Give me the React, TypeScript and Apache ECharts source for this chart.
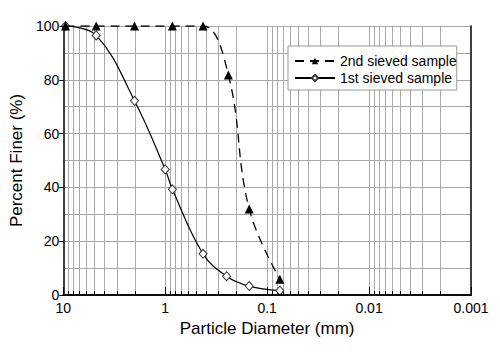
import React, { useEffect, useRef } from 'react';
import * as echarts from 'echarts';

// Particle size (mm) and percent finer
const sizes1st = [9.5, 4.75, 2.0, 1.0, 0.85, 0.425, 0.25, 0.15, 0.075];
const finer1st = [100, 96.5, 72.2, 46.7, 39.3, 15.3, 7.0, 3.3, 1.6];
const sizes2nd = [9.5, 4.75, 2.0, 0.85, 0.425, 0.24, 0.15, 0.075];
const finer2nd = [100, 100, 100, 100, 100, 81.8, 32.0, 5.9];

const xTickLabels = ['10', '1', '0.1', '0.01', '0.001'];
const decades = [1, 0.1, 0.01, 0.001];
const multipliers = [1, 2, 3, 4, 5, 6, 7, 8, 9];

const FONT = '"Liberation Sans", Arial, sans-serif';

export default function App() {
  const ref = useRef<HTMLDivElement>(null);
  useEffect(() => {
    if (!ref.current) return;
    const chart = echarts.init(ref.current, undefined, { renderer: 'svg' });
    const gridVals: number[][] = [];
    decades.forEach((d) => {
      multipliers.forEach((m) => {
        const v = +(d * m).toPrecision(3);
        if (v > 0.001 && v < 10) gridVals.push([v, 0, m === 1 ? 1 : 0]);
      });
    });
    const option: any = {
      animation: false,
      textStyle: { fontFamily: FONT },
      grid: { left: 62, right: 29, top: 26, bottom: 59 },
      legend: {
        orient: 'vertical',
        left: 288,
        top: 46,
        padding: [8, 0, 5, 6],
        itemGap: 3,
        itemWidth: 40,
        itemHeight: 8,
        backgroundColor: '#fff',
        borderColor: '#999',
        borderWidth: 1,
        borderRadius: 0,
        textStyle: { fontSize: 14, color: '#000', fontFamily: FONT, lineHeight: 14 },
        data: ['2nd sieved sample', '1st sieved sample'],
      },
      xAxis: [
        {
          type: 'log',
          logBase: 10,
          inverse: true,
          min: 0.001,
          max: 10,
          splitNumber: 4,
          position: 'bottom',
          z: 5,
          axisLine: { show: true, lineStyle: { color: '#000', width: 1.5 } },
          axisTick: { show: true, inside: true, length: 8, lineStyle: { color: '#000', width: 1 } },
          axisLabel: {
            fontSize: 14,
            color: '#000',
            margin: 6,
            fontFamily: FONT,
            formatter: (v: number) => xTickLabels[1 - Math.round(Math.log10(v))],
          },
          splitLine: { show: false },
          name: 'Particle Diameter (mm)',
          nameLocation: 'middle',
          nameGap: 24,
          nameTextStyle: { fontSize: 17, color: '#000', fontFamily: FONT },
        },
        {
          type: 'log',
          logBase: 10,
          inverse: true,
          min: 0.001,
          max: 10,
          position: 'top',
          z: 5,
          axisLine: { show: true, lineStyle: { color: '#000', width: 1.5 } },
          axisTick: { show: false },
          axisLabel: { show: false },
          splitLine: { show: false },
        },
      ],
      yAxis: [
        {
          type: 'value',
          min: 0,
          max: 100,
          interval: 10,
          axisLine: { show: false },
          axisTick: { show: false },
          axisLabel: { show: false },
          splitLine: { show: true, lineStyle: { color: '#a8a8a8', width: 1 } },
        },
        {
          type: 'value',
          min: 0,
          max: 100,
          interval: 20,
          position: 'left',
          z: 5,
          axisLine: { show: true, lineStyle: { color: '#000', width: 1.5 } },
          axisTick: { show: true, inside: false, length: 4, lineStyle: { color: '#000' } },
          axisLabel: { fontSize: 14, color: '#000', margin: 4, fontFamily: FONT },
          splitLine: { show: false },
          name: 'Percent Finer (%)',
          nameLocation: 'middle',
          nameGap: 31,
          nameTextStyle: { fontSize: 17, color: '#000', fontFamily: FONT },
        },
        {
          type: 'value',
          min: 0,
          max: 100,
          position: 'right',
          z: 5,
          axisLine: { show: true, onZero: false, lineStyle: { color: '#000', width: 1.5 } },
          axisTick: { show: false },
          axisLabel: { show: false },
          splitLine: { show: false },
        },
      ],
      series: [
        {
          type: 'custom',
          z: 1,
          silent: true,
          xAxisIndex: 0,
          yAxisIndex: 0,
          clip: false,
          encode: { x: 0, y: 1 },
          data: gridVals,
          renderItem: (params: any, api: any) => {
            const v = api.value(0);
            const major = api.value(2) === 1;
            const top = api.coord([v, 100]);
            const bot = api.coord([v, 0]);
            const x = Math.round(top[0]) + 0.5;
            const children: any[] = [
              {
                type: 'line',
                shape: { x1: x, y1: top[1], x2: x, y2: bot[1] },
                style: { stroke: '#a8a8a8', lineWidth: 1 },
              },
            ];
            if (!major) {
              children.push({
                type: 'line',
                shape: { x1: x, y1: bot[1], x2: x, y2: bot[1] - 4 },
                style: { stroke: '#000', lineWidth: 1 },
              });
            }
            return { type: 'group', children };
          },
        },
        {
          name: '2nd sieved sample',
          type: 'line',
          xAxisIndex: 0,
          yAxisIndex: 0,
          smooth: 0.4,
          symbol: 'triangle',
          symbolSize: 9,
          data: sizes2nd.map((s, i) => [s, finer2nd[i]]),
          lineStyle: { color: '#000', width: 1.3, type: [9, 6] },
          itemStyle: { color: '#000', borderColor: '#000', borderWidth: 0 },
          z: 4,
        },
        {
          name: '1st sieved sample',
          type: 'line',
          xAxisIndex: 0,
          yAxisIndex: 0,
          smooth: 0.4,
          symbol: 'diamond',
          symbolSize: [8, 9],
          data: sizes1st.map((s, i) => [s, finer1st[i]]),
          lineStyle: { color: '#000', width: 1.2, type: 'solid' },
          itemStyle: { color: '#fff', borderColor: '#333', borderWidth: 1 },
          z: 3,
        },
      ],
    };
    chart.setOption(option);
    return () => chart.dispose();
  }, []);
  return (
    <div
      ref={ref}
      style={{ position: 'fixed', left: 0, top: 0, width: 500, height: 354, background: '#fff' }}
    />
  );
}
